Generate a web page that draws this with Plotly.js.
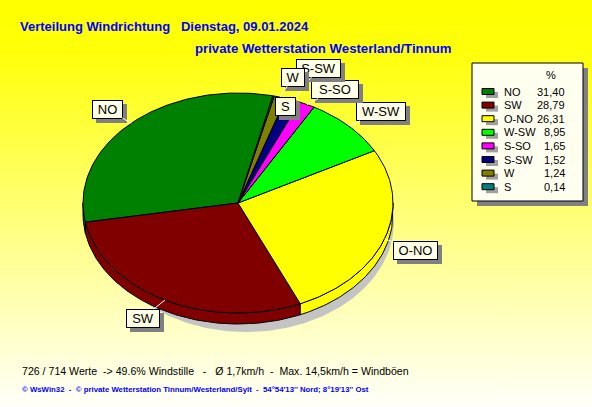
<!DOCTYPE html>
<html><head><meta charset="utf-8">
<script src="https://cdn.plot.ly/plotly-3.0.1.min.js"></script>
<style>
html,body{margin:0;padding:0;}
body{width:592px;height:407px;overflow:hidden;background:linear-gradient(to bottom,#ffff00 0%,#ffff08 12%,#fffffa 100%);}
#chart{width:592px;height:407px;}
</style></head><body><div id="chart"></div>
<script>
// ---- data ----
const categories = ['NO','SW','O-NO','W-SW','S-SO','S-SW','W','S'];
const percentValues = [31.40, 28.79, 26.31, 8.95, 1.65, 1.52, 1.24, 0.14];
const valueLabels = ['31,40','28,79','26,31','8,95','1,65','1,52','1,24','0,14'];
const sliceColors = ['#008000','#800000','#ffff00','#00ff00','#ff00ff','#000080','#808000','#008080'];
const titleLine1 = 'Verteilung Windrichtung\u00a0\u00a0 Dienstag, 09.01.2024';
const titleLine2 = 'private Wetterstation Westerland/Tinnum';
const infoLine = '726 / 714 Werte\u00a0 -&gt; 49.6% Windstille\u00a0\u00a0 -\u00a0\u00a0 Ø 1,7km/h\u00a0 -\u00a0 Max. 14,5km/h = Windböen';
const footerLine = '© WsWin32\u00a0 -\u00a0 © private Wetterstation Tinnum/Westerland/Sylt\u00a0 -\u00a0 54°54\'13\'\' Nord; 8°19\'13\'\' Ost';

// ---- geometry / style ----
const geom = {cx:238, cy:203, rx:155, ry:110, depth:11, start:77};
const shadowGeom = {cx:246, cy:222, rx:148, ry:110};
const labelPos = {
  'NO':  {ax:-24, ay:-14, w:31},
  'SW':  {ax:-22, ay:18,  w:34},
  'O-NO':{ax:31,  ay:12,  w:45},
  'W-SW':{ax:32,  ay:-14, w:50},
  'S-SO':{ax:28,  ay:-15, w:48},
  'S-SW':{ax:26,  ay:-32, w:45},
  'W':   {ax:13,  ay:-20, w:24},
  'S':   {ax:12,  ay:11,  w:21}
};
const FONT = 'Liberation Sans, Arial, sans-serif';

function pt(deg, dy, g){ g = g || geom; const t = deg*Math.PI/180; return [g.cx + g.rx*Math.cos(t), g.cy - g.ry*Math.sin(t) + (dy||0)]; }
function arc(a0, a1, dy, g){ const n = Math.max(2, Math.ceil(Math.abs(a1-a0)/1)); const p=[]; for(let i=0;i<=n;i++) p.push(pt(a0+(a1-a0)*i/n, dy, g)); return p; }

const total = percentValues.reduce((a,b)=>a+b,0);
const slices = [];
let acc = geom.start;
percentValues.forEach((v,i)=>{ const span = v/total*360; slices.push({a0:acc, a1:acc+span, mid:acc+span/2}); acc += span; });

const traces = [];
function poly(points, fill, line){
  traces.push({type:'scatter', mode:'lines', x:points.map(p=>p[0]), y:points.map(p=>p[1]),
    fill:'toself', fillcolor:fill, line:{color:line||'#000', width:line?0:1}, hoverinfo:'skip', showlegend:false});
}
// shadow
poly(arc(0,360,0,shadowGeom), '#c4c4c4', 'rgba(0,0,0,0)');
// side walls (front half)
slices.forEach((s,i)=>{
  for(let k=-1;k<=2;k++){
    const lo = Math.max(s.a0, 180+360*k), hi = Math.min(s.a1, 360+360*k);
    if(hi>lo){
      const top = arc(lo,hi,0), bot = arc(hi,lo,geom.depth);
      const p = top.concat(bot); p.push(top[0]);
      poly(p, sliceColors[i]);
    }
  }
});
// top faces
slices.forEach((s,i)=>{
  const p = [[geom.cx,geom.cy]].concat(arc(s.a0,s.a1,0)); p.push([geom.cx,geom.cy]);
  poly(p, sliceColors[i]);
});

const annotations = [];
// slice labels
categories.forEach((c,i)=>{
  const s = slices[i]; const a = pt(s.mid, 0); const lp = labelPos[c];
  const base = {x:a[0], y:a[1], xref:'x', yref:'y', text:c, showarrow:true, arrowhead:0, arrowwidth:1,
    axref:'pixel', ayref:'pixel', standoff:0, borderwidth:1, borderpad:1, width:lp.w-4, height:15,
    font:{family:FONT, size:13, color:'#000'}};
  annotations.push(Object.assign({}, base, {text:'\u00a0', ax:lp.ax+4, ay:lp.ay+4, arrowcolor:'rgba(0,0,0,0)', bgcolor:'#808080', bordercolor:'#808080'}));
  annotations.push(Object.assign({}, base, {ax:lp.ax, ay:lp.ay, arrowcolor:'#ffffff', bgcolor:'#ffffe8', bordercolor:'#000000'}));
});
// legend
const shapes = [
  {type:'rect', xref:'x', yref:'y', x0:477, y0:68, x1:588, y1:206, fillcolor:'#808080', line:{width:0}},
  {type:'rect', xref:'x', yref:'y', x0:472, y0:63, x1:583, y1:201, fillcolor:'#fffff0', line:{color:'#000', width:1}}
];
annotations.push({x:551, y:75, xref:'x', yref:'y', text:'%', showarrow:false, font:{family:FONT,size:11,color:'#000'}});
categories.forEach((c,i)=>{
  const r = 91.5 + 13.6*i;
  shapes.push({type:'rect', xref:'x', yref:'y', x0:486, y0:r+0.5, x1:498, y1:r+6.5, fillcolor:'#a0a0a0', line:{width:0}});
  shapes.push({type:'rect', xref:'x', yref:'y', x0:482, y0:r-3, x1:494, y1:r+3, fillcolor:sliceColors[i], line:{color:'#000', width:1}});
  annotations.push({x:502, y:r, xref:'x', yref:'y', xanchor:'left', yanchor:'middle', text:c, showarrow:false, font:{family:FONT,size:11,color:'#000'}});
  annotations.push({x:567, y:r, xref:'x', yref:'y', xanchor:'right', yanchor:'middle', text:valueLabels[i], showarrow:false, font:{family:FONT,size:11,color:'#000'}});
});
// texts
annotations.push({x:193, y:48, xref:'x', yref:'y', xanchor:'left', yanchor:'middle', text:'<b>'+titleLine2+'</b>', showarrow:false, font:{family:FONT,size:13.2,color:'#0000ff'}});
annotations.push({x:20, y:371, xref:'x', yref:'y', xanchor:'left', yanchor:'middle', text:infoLine, showarrow:false, font:{family:FONT,size:10.6,color:'#000'}});
annotations.push({x:20, y:389, xref:'x', yref:'y', xanchor:'left', yanchor:'middle', text:'<b>'+footerLine+'</b>', showarrow:false, font:{family:FONT,size:7.8,color:'#0000ff'}});

const layout = {
  width:592, height:407, autosize:false,
  margin:{l:0,r:0,t:0,b:0,pad:0},
  paper_bgcolor:'rgba(0,0,0,0)', plot_bgcolor:'rgba(0,0,0,0)',
  title:{text:'<b>'+titleLine1+'</b>', x:20/592, xanchor:'left', xref:'paper', yref:'paper', y:1-26/407, yanchor:'middle', font:{family:FONT,size:13,color:'#0000ff'}},
  xaxis:{range:[0,592], visible:false, fixedrange:true},
  yaxis:{range:[407,0], visible:false, fixedrange:true},
  showlegend:false, shapes:shapes, annotations:annotations
};
Plotly.newPlot('chart', traces, layout, {displayModeBar:false, staticPlot:true});
</script></body></html>
